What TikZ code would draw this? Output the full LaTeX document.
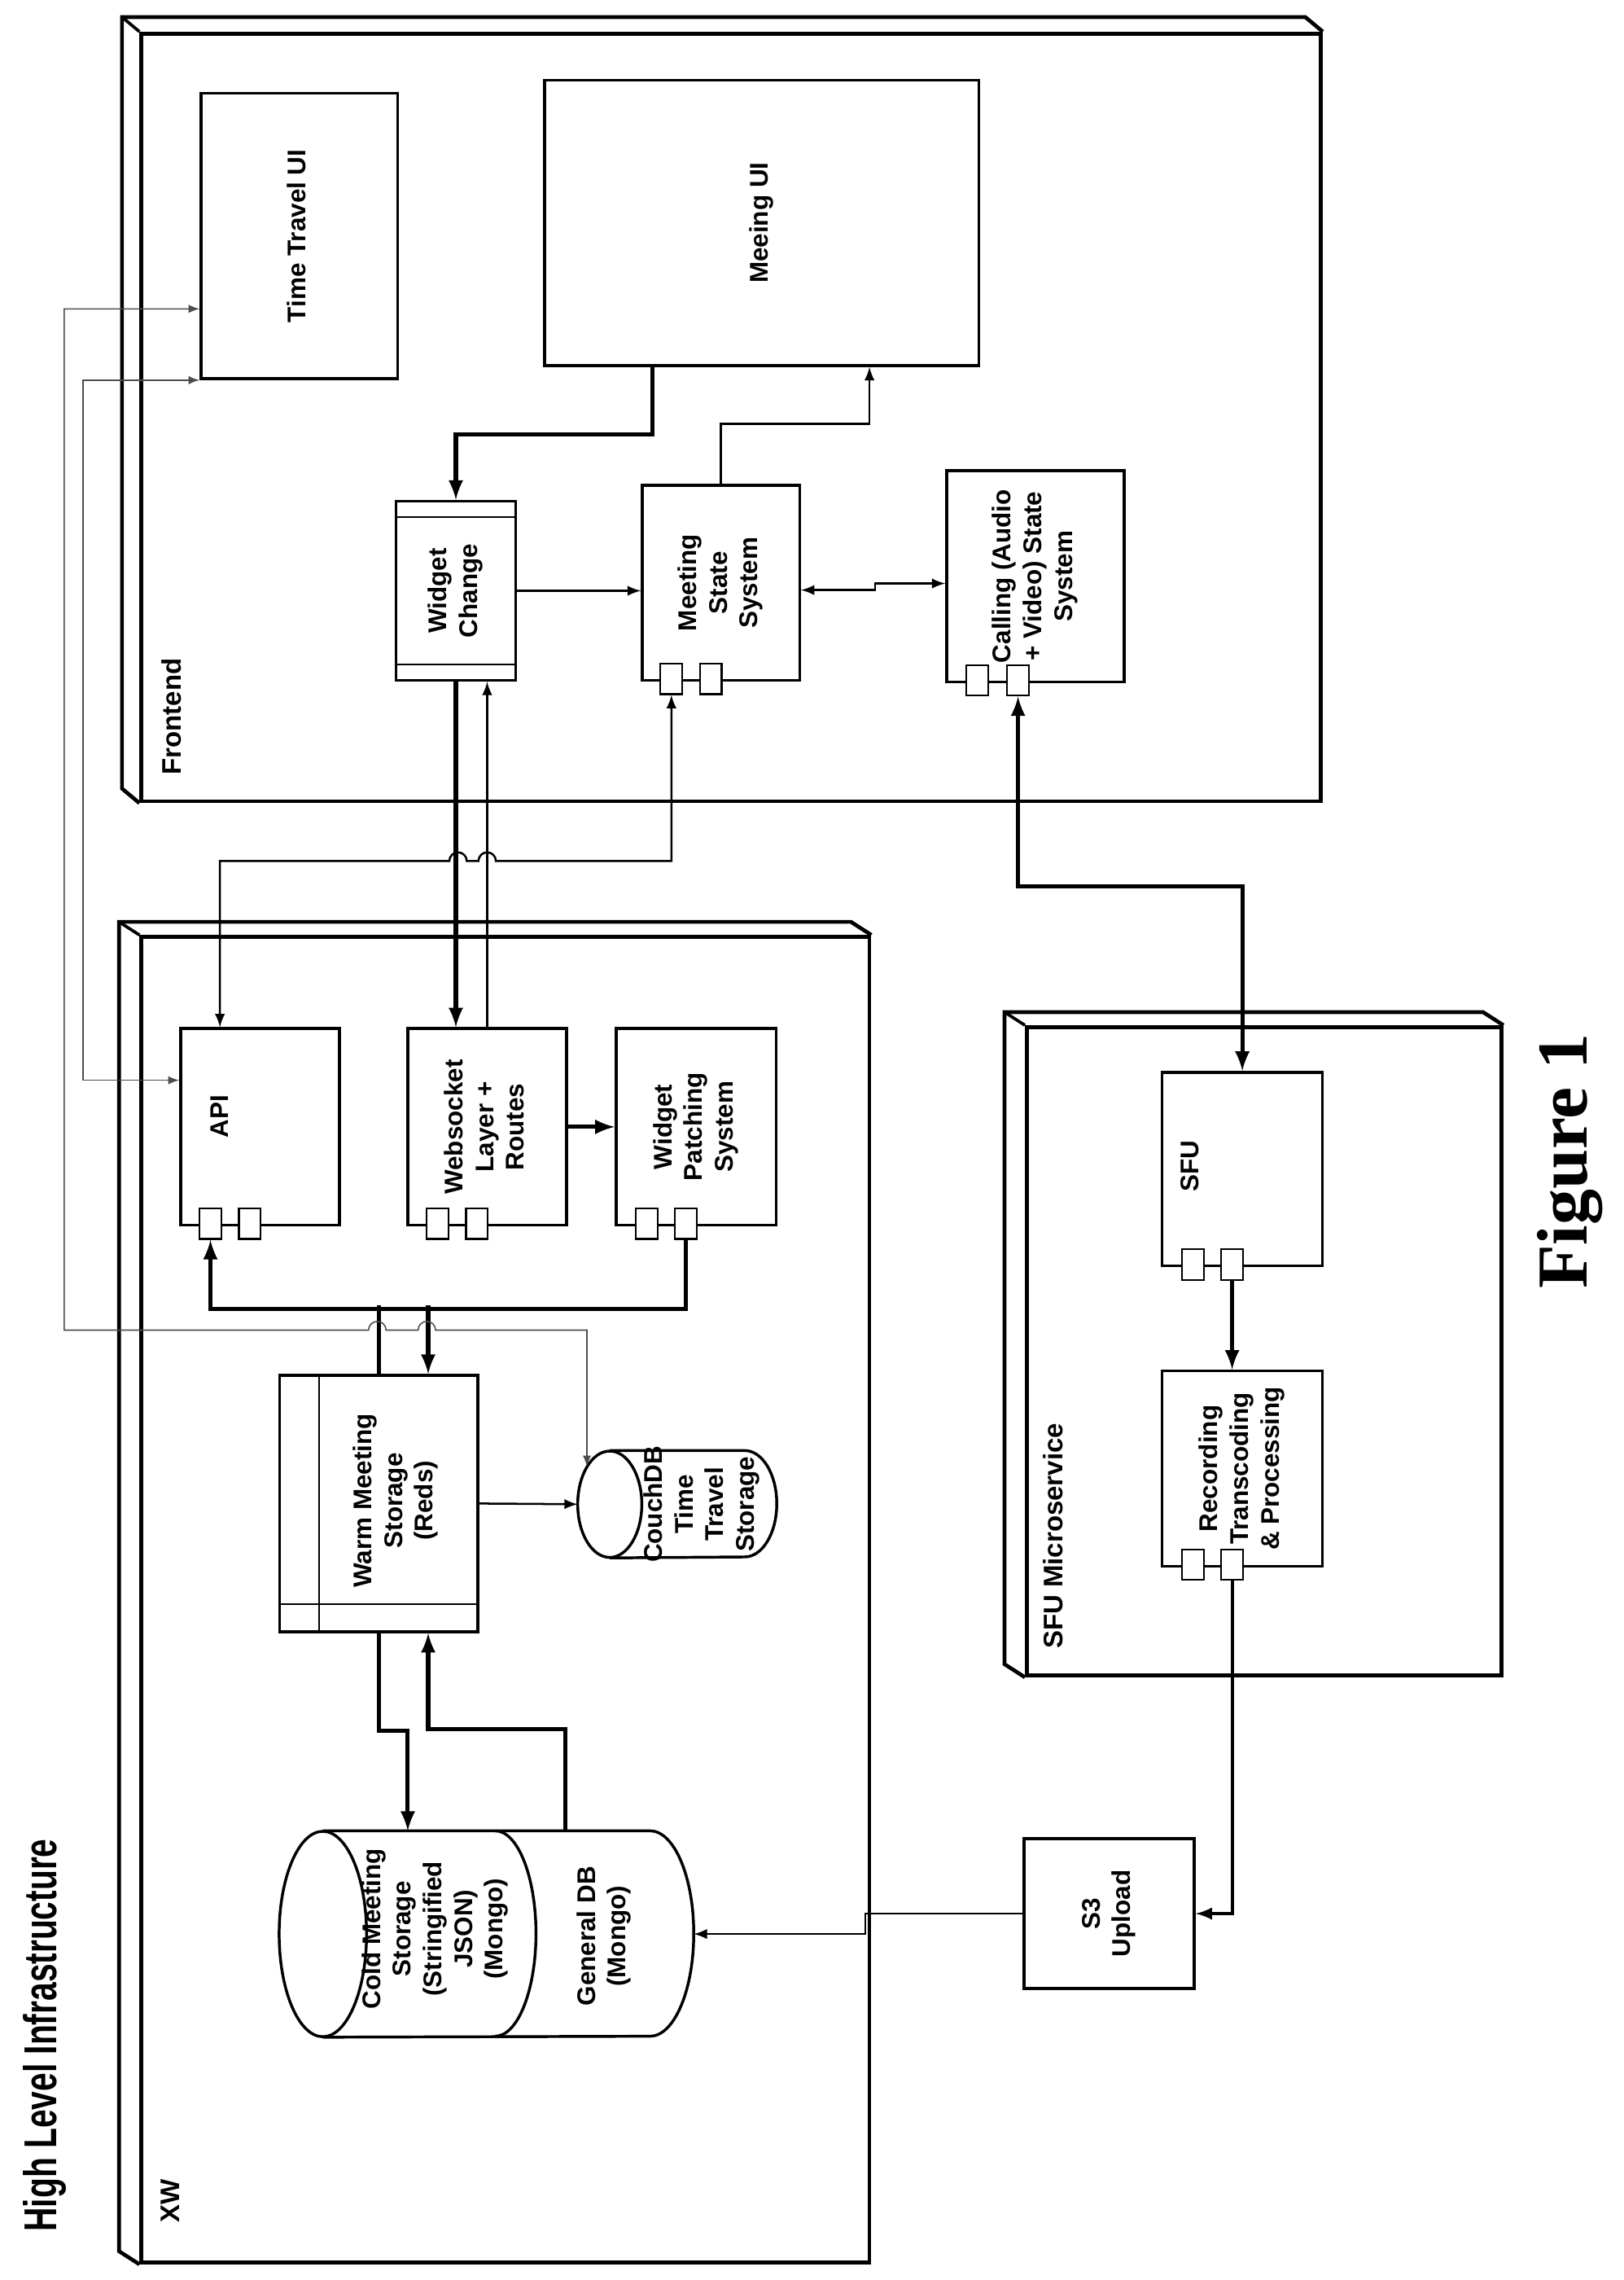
\documentclass[tikz,border=0pt]{standalone}
\usepackage{fontspec}
\setmainfont{Liberation Serif}
\setsansfont{Liberation Sans}
\usetikzlibrary{calc,positioning}
\newcommand{\vtext}[1]{\rotatebox{90}{\begin{tabular}{@{}c@{}}#1\end{tabular}}}
\begin{document}
\begin{tikzpicture}[x=0.02cm, y=-0.02cm, >=latex,
    every node/.style={font=\sffamily\bfseries\fontsize{10}{12}\selectfont},
    box/.style={draw, line width=1.1pt, inner sep=0pt},
    port/.style={draw, fill=white, line width=0.7pt, minimum width=0.3cm, minimum height=0.42cm, inner sep=0pt},
    panel/.style={draw, line width=1.5pt, inner sep=0pt},
    tag/.style={rotate=90, anchor=west, font=\sffamily\bfseries\fontsize{10.5}{12}\selectfont},
    arr/.style={->, line width=0.8pt},
    arrs/.style={<->, line width=0.8pt},
    thk/.style={->, line width=1.6pt},
    thks/.style={<->, line width=1.6pt},
    faint/.style={<->, line width=0.5pt, draw=black!70}]
  \useasboundingbox (0,0) rectangle (1115,1565);

  % panels
  \node[panel, minimum width=16.2cm, minimum height=10.54cm] (front) at (502,286.5) {};
  \draw[line width=1.5pt] (front.south west) -- ++(-12,-10) -- ($(front.north west)+(-12,-10)$) -- ($(front.north east)+(-12,-10)$) -- (front.north east);
  \draw[line width=1.2pt] (front.north west) -- ++(-12,-10);
  \node[tag] (frontlbl) at (118,538) {Frontend};

  \node[panel, minimum width=10cm, minimum height=18.2cm] (xw) at (347,1098) {};
  \draw[line width=1.5pt] (xw.south west) -- ++(-14,-9) -- ($(xw.north west)+(-14,-9)$) -- ($(xw.north east)+(-14,-9)$) -- (xw.north east);
  \draw[line width=1.2pt] (xw.north west) -- ++(-14,-9);
  \node[tag] (xwlbl) at (117,1532) {XW};

  \node[panel, minimum width=6.52cm, minimum height=8.9cm] (sfupanel) at (868,927.5) {};
  \draw[line width=1.5pt] (sfupanel.south west) -- ++(-14,-9) -- ($(sfupanel.north west)+(-14,-9)$) -- ($(sfupanel.north east)+(-14,-9)$) -- (sfupanel.north east);
  \draw[line width=1.2pt] (sfupanel.north west) -- ++(-14,-9);
  \node[tag] (sfulbl) at (723,1138) {SFU Microservice};

  % frontend
  \node[box, fill=white, minimum width=2.7cm, minimum height=3.92cm] (ttui) at (205.5,162) {\vtext{Time Travel UI}};
  \node[box, fill=white, minimum width=5.96cm, minimum height=3.92cm] (mui) at (523,153) {\vtext{Meeing UI}};
  \node[box, fill=white, minimum width=1.64cm, minimum height=2.46cm] (wc) at (313,405.5) {\vtext{Widget\\Change}};
  \draw[line width=0.7pt] ($(wc.north west)+(0,12)$) -- ($(wc.north east)+(0,12)$)
                          ($(wc.south west)+(0,-12)$) -- ($(wc.south east)+(0,-12)$);
  \node[box, fill=white, minimum width=2.16cm, minimum height=2.68cm] (mss) at (495,400) {\vtext{Meeting\\State\\System}};
  \node[box, fill=white, minimum width=2.44cm, minimum height=2.9cm] (cas) at (711,395.5) {\vtext{Calling (Audio\\+ Video) State\\System}};

  % xw
  \node[box, fill=white, minimum width=2.18cm, minimum height=2.7cm] (api) at (178.5,773.5) {};
  \node[rotate=90] (apitxt) at ($(api.center)+(-28,-7)$) {API};
  \node[box, fill=white, minimum width=2.18cm, minimum height=2.7cm] (wsl) at (334.5,773.5) {\vtext{Websocket\\Layer +\\Routes}};
  \node[box, fill=white, minimum width=2.2cm, minimum height=2.7cm] (wps) at (478,773.5) {\vtext{Widget\\Patching\\System}};
  \node[box, fill=white, minimum width=2.72cm, minimum height=3.52cm] (warm) at (260,1032) {};
  \draw[line width=0.7pt] ($(warm.north west)+(28,0)$) -- ($(warm.south west)+(28,0)$)
                          ($(warm.south west)+(0,-20)$) -- ($(warm.south east)+(0,-20)$);
  \node (warmtxt) at ($(warm.center)+(12,-2)$) {\vtext{Warm Meeting\\Storage\\(Reds)}};

  % cylinders
  \node[minimum width=2.72cm, minimum height=1.46cm, inner sep=0pt] (couch) at (465,1032.5) {};
  \draw[line width=1.1pt] ($(couch.west)+(22,0)$) ellipse [x radius=22, y radius=36.5];
  \draw[line width=1.1pt] ($(couch.north west)+(22,0)$) -- ($(couch.north east)+(-22,0)$)
        arc[start angle=270, end angle=450, x radius=22, y radius=36.5] -- ($(couch.south west)+(22,0)$);
  \node (couchtxt) at ($(couch.center)+(17,0)$) {\vtext{CouchDB\\Time\\Travel\\Storage}};

  \node[minimum width=5.68cm, minimum height=2.82cm, inner sep=0pt] (gendb) at (334,1327.5) {};
  \draw[line width=1.1pt] ($(gendb.west)+(30,0)$) ellipse [x radius=30, y radius=70.5];
  \draw[line width=1.1pt] ($(gendb.north west)+(30,0)$) -- ($(gendb.north east)+(-30,0)$)
        arc[start angle=270, end angle=450, x radius=30, y radius=70.5] -- ($(gendb.south west)+(30,0)$);
  \draw[line width=1.1pt] ($(gendb.north)+(6,0)$) arc[start angle=270, end angle=450, x radius=28, y radius=70.5];
  \node (coldtxt) at (299,1324) {\vtext{Cold Meeting\\Storage\\(Stringified\\JSON)\\(Mongo)}};
  \node (gentxt) at (415,1329) {\vtext{General DB\\(Mongo)}};

  % sfu
  \node[box, fill=white, minimum width=2.2cm, minimum height=2.66cm] (sfu) at (853,802.5) {};
  \node[rotate=90] (sfutxt) at ($(sfu.center)+(-36,-2)$) {SFU};
  \node[box, fill=white, minimum width=2.2cm, minimum height=2.68cm] (rec) at (853,1008) {\vtext{Recording\\Transcoding\\\& Processing}};
  \node[box, fill=white, minimum width=2.34cm, minimum height=2.06cm] (s3) at (761.5,1313.5) {\vtext{S3\\Upload}};

  % ports
  \foreach \b in {api,wsl,wps,mss,sfu,rec} {
    \node[port] (\b-p1) at ($(\b.south)+(-34,-2)$) {};
    \node[port] (\b-p2) at ($(\b.south)+(-7,-2)$) {};
  }
  \node[port] (cas-p1) at ($(cas.south)+(-40,-2)$) {};
  \node[port] (cas-p2) at ($(cas.south)+(-12,-2)$) {};

  % connectors
  \draw[thk] ($(mui.south)+(-75,0)$) -- ++(0,46) -| (wc.north);
  \draw[arr] (mss.north) -- ++(0,-41) -| ($(mui.south)+(74,0)$);
  \draw[arr] (wc.east) -- (wc.east -| mss.west);
  \draw[arrs] ($(mss.east)+(0,5)$) -- ++(51,0) |- ($(cas.west)+(0,5)$);
  \draw[thk] (wc.south) -- (wc.south |- wsl.north);
  \draw[arr] (wsl.north) -- (wsl.north |- wc.south);
  \draw[arrs] ($(api.north)+(-27.5,0)$) -- ++(0,-114) -- ++(157.5,0)
        arc[start angle=180, end angle=360, radius=6] -- ++(8,0)
        arc[start angle=180, end angle=360, radius=6] -| (mss-p1.south);
  \draw[thks] (cas-p2.south) -- ++(0,130.5) -| (sfu.north);
  \draw[thk] (wsl.east) -- (wps.west);
  \draw[thk] (wps-p2.south) -- ++(0,47.5) -| (api-p1.south);
  \draw[line width=1.6pt] ($(warm.north)+(0,-47)$) -- (warm.north);
  \draw[thk] ($(warm.north)+(34,-47)$) -- ($(warm.north)+(34,0)$);
  \draw[arr] (warm.east) -- (couch.west);
  \draw[thk] (warm.south) -- ++(0,67) -| ($(gendb.north)+(-54,0)$);
  \draw[thk] ($(gendb.north)+(54,0)$) -- ++(0,-70) -| ($(warm.south)+(34,0)$);
  \draw[thk] (sfu-p2.south) -- (sfu-p2.south |- rec.north);
  \draw[arr, line width=1.2pt] (rec-p2.south) |- (s3.east);
  \draw[arr] (s3.west) -- ++(-108,0) |- (gendb.east);

  % time travel links
  \draw[faint] ($(ttui.west)+(0,50)$) -- ++(-93,0) -- ++(0,701) -- ++(209,0)
        arc[start angle=180, end angle=360, radius=6] -- ++(22,0)
        arc[start angle=180, end angle=360, radius=6] -| ($(couch.north)+(-62,11)$);
  \draw[faint] (ttui.south west) -- ++(-80,0) |- ($(api.west)+(0,-32)$);

  % captions
  \node[rotate=90, font=\sffamily\bfseries\fontsize{18}{20}\selectfont] (title) at (31,1397) {\scalebox{0.72}[1]{High Level Infrastructure}};
  \node[rotate=90, font=\rmfamily\bfseries\fontsize{28}{32}\selectfont] (fig) at (1078,797) {Figure 1};
\end{tikzpicture}
\end{document}
